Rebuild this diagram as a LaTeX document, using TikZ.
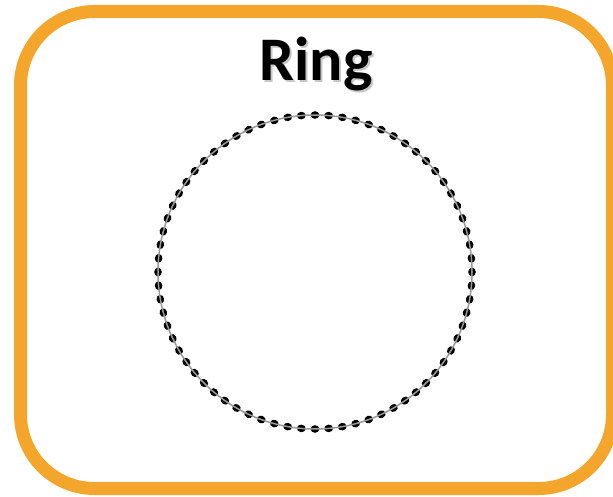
\documentclass[tikz,border=0pt]{standalone}
\usepackage{fontspec}
\setmainfont{Carlito}
\usepackage{tikz}
\usetikzlibrary{positioning, calc}
\usepackage{xcolor}
\definecolor{frame}{HTML}{F4A52B}
\definecolor{string}{HTML}{9A9A9A}

\begin{document}
\begin{tikzpicture}[
  x=1pt, y=-1pt,
  panel/.style={draw=frame, line width=13pt, rounded corners=74pt},
  title/.style={font=\fontsize{62}{62}\selectfont\bfseries, inner sep=0pt},
  bead/.style={fill=black, draw=none},
  thread/.style={draw=string, line width=1.5pt}
]
  \useasboundingbox (0,0) rectangle (613,497);

  % frame
  \draw[panel] (20.5,11.5) rectangle (612.5,488.5);

  % title with soft shadow
  \node[title, text=black!22, anchor=base] at (318,83) {Ring};
  \node[title, anchor=base] (ring) at (316,81) {Ring};

  % beads on the ring
  \coordinate (c) at (315,272);
  \foreach \a in {0,5,...,355}
    \fill[bead, rotate around={-\a:(c)}] ($(c)+(157,0)$) ellipse [x radius=3.8pt, y radius=4.4pt];
  \draw[thread] (c) circle [radius=157];
\end{tikzpicture}
\end{document}
